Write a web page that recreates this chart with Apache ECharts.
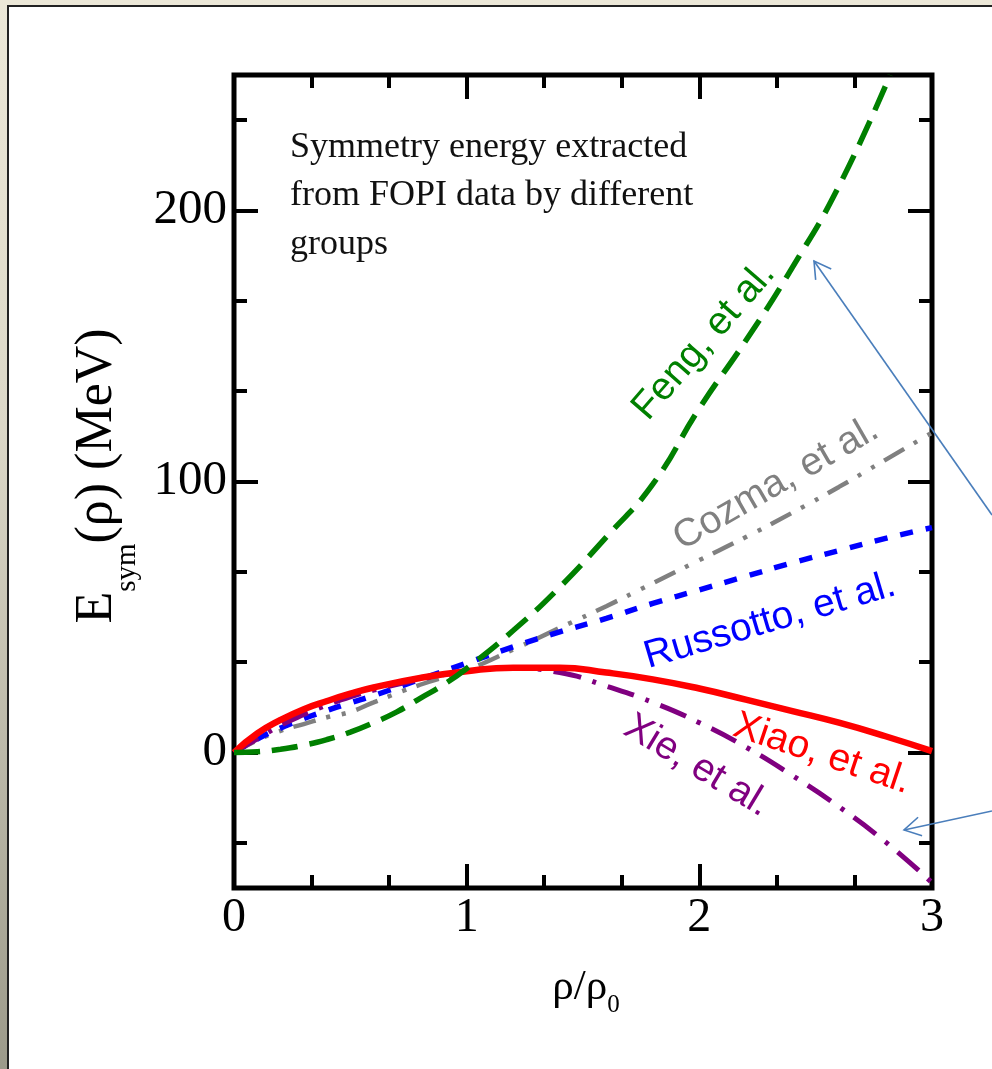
<!DOCTYPE html>
<html><head><meta charset="utf-8">
<script src="https://cdn.jsdelivr.net/npm/echarts@6/dist/echarts.min.js"></script>
<style>
html,body{margin:0;padding:0;width:992px;height:1069px;overflow:hidden;}
body{position:relative;background:linear-gradient(to bottom,#ece8d8 0%,#dcd8c8 40%,#9c9a8a 100%);}
#panel{position:absolute;left:7px;top:5px;width:1000px;height:1080px;background:#fff;border-left:2px solid #222;border-top:2px solid #222;}
#chart{position:absolute;left:0;top:0;width:992px;height:1069px;}
</style></head><body><div id="panel"></div><div id="chart"></div>
<script>
// ---- data ----
const densities = [0,0.1,0.2,0.3,0.4,0.5,0.6,0.8,1.0,1.2,1.4,1.6,1.8,2.0,2.2,2.4,2.6,2.8,3.0];
const xiao      = [0,7,12,16,19,21.7,24,27.5,30,31.3,31.3,29.5,27,23.6,19.5,15.3,11,6,0.5];
const xie       = [0,5,10,14,17.5,20.5,23,27,30,31,29.5,24.5,18.5,11,2,-8.5,-20,-33,-48];
const cozma     = [0,4.5,8,10.5,13,15,18.5,25,30.5,38,46,54,62.5,71,79.5,88.5,98,108,118];
const russotto  = [0,5,9,12.5,15.5,18.3,21,27,33,39,44.5,49.5,55,60,65,70,74.5,79,83];
const fengX     = [0,0.1,0.2,0.3,0.4,0.5,0.6,0.7,0.8,0.9,1.0,1.2,1.4,1.6,1.8,2.0,2.2,2.4,2.6,2.82];
const fengY     = [0,0.3,1.2,2.7,4.8,7.5,11,15,20,25,31,45,61,79.5,99,127,152,179,209,250];
const yMajorTicks = [0,100,200];
const yMinorTicks = [-33.333,33.333,66.667,133.333,166.667,233.333];
const seriesNames = ['Feng, et al.','Cozma, et al.','Russotto, et al.','Xiao, et al.','Xie, et al.'];
const noteLines = ['Symmetry energy extracted','from FOPI data by different','groups'];

const zip = (xs, ys) => xs.map((x,i)=>[x, ys[i]]);
const serif = '"Liberation Serif","Times New Roman","DejaVu Serif",serif';
const sans = '"Liberation Sans",Arial,sans-serif';
const black = '#000';

const chart = echarts.init(document.getElementById('chart'));

function xAx(pos, showLabel){
  return {type:'value', position:pos, min:0, max:3, interval:1,
    axisLine:{show:false, onZero:false},
    axisTick:{show:true, inside:true, length:24, lineStyle:{color:black, width:4}},
    minorTick:{show:true, splitNumber:3, length:13, lineStyle:{color:black, width:4}},
    splitLine:{show:false}, minorSplitLine:{show:false},
    axisLabel:{show:showLabel, fontFamily:serif, fontSize:48, color:black, margin:6}};
}
function yAx(pos, ticks, len, showLabel){
  return {type:'value', position:pos, min:-50, max:250,
    axisLine:{show:false, onZero:false},
    axisTick:{show:true, inside:true, length:len, customValues:ticks, lineStyle:{color:black, width:4}},
    splitLine:{show:false},
    axisLabel:{show:showLabel, customValues:ticks, fontFamily:serif, fontSize:49, color:black, margin:7}};
}
function lineSeries(name, data, color, width, dash){
  return {name, type:'line', data, smooth:true, symbol:'none', clip:true,
    lineStyle:{color, width, type:dash, cap:'butt'}, xAxisIndex:0, yAxisIndex:0};
}
function arrow(x1,y1,x2,y2){
  const ang = Math.atan2(y1-y2, x1-x2), L=19, a=Math.PI/6;
  const st = {stroke:'#4a7ebb', lineWidth:1.6, fill:null};
  return [
    {type:'line', z:100, shape:{x1,y1,x2,y2}, style:st},
    {type:'polyline', z:100, shape:{points:[[x2+L*Math.cos(ang+a), y2+L*Math.sin(ang+a)],[x2,y2],[x2+L*Math.cos(ang-a), y2+L*Math.sin(ang-a)]]}, style:st}
  ];
}
const labelSpecs = [
  {t:seriesNames[0], c:'#008000', x:704, y:341, r:49},
  {t:seriesNames[1], c:'#808080', x:776, y:484, r:30},
  {t:seriesNames[2], c:'#0000ff', x:770, y:621, r:16.5},
  {t:seriesNames[3], c:'#ff0000', x:822, y:754, r:-18.5},
  {t:seriesNames[4], c:'#800080', x:697, y:766, r:-31}
];
const graphics = [];
labelSpecs.forEach(l=>graphics.push({type:'text', z:50, x:l.x, y:l.y, rotation:l.r*Math.PI/180,
  style:{text:l.t, fill:l.c, fontFamily:sans, fontSize:39, align:'center', verticalAlign:'middle'}}));
graphics.push({type:'text', z:50, x:290, y:123, style:{text:noteLines.join('\n'), fill:'#111', fontFamily:serif, fontSize:36, lineHeight:48.5, align:'left', verticalAlign:'top'}});
graphics.push({type:'text', z:50, x:97, y:476, rotation:Math.PI/2,
  style:{text:'{e|E}{s|sym}{e|(ρ) (MeV)}', align:'center', verticalAlign:'middle',
    rich:{e:{fontFamily:serif, fontSize:52, lineHeight:52, fill:black, color:black},
          s:{fontFamily:serif, fontSize:29, lineHeight:29, padding:[60,0,0,0], fill:black, color:black}}}});
graphics.push({type:'text', z:50, x:586, y:988,
  style:{text:'{e|ρ/ρ}{s|0}', align:'center', verticalAlign:'middle',
    rich:{e:{fontFamily:serif, fontSize:43, lineHeight:43, fill:black, color:black},
          s:{fontFamily:serif, fontSize:25, lineHeight:25, padding:[34,0,0,0], fill:black, color:black}}}});
arrow(992,515,814,261).forEach(g=>graphics.push(g));
arrow(992,811,904,830).forEach(g=>graphics.push(g));

chart.setOption({
  animation:false,
  backgroundColor:'transparent',
  grid:{left:234, right:60, top:75, bottom:181, show:true, borderColor:black, borderWidth:5, backgroundColor:'transparent'},
  xAxis:[xAx('bottom', true), xAx('top', false)],
  yAxis:[yAx('left', yMajorTicks, 24, true), yAx('left', yMinorTicks, 13, false),
         yAx('right', yMajorTicks, 24, false), yAx('right', yMinorTicks, 13, false)],
  series:[
    lineSeries(seriesNames[1], zip(densities, cozma), '#808080', 4.5, [23,11,4,12,4,11]),
    lineSeries(seriesNames[2], zip(densities, russotto), '#0000ff', 5.5, [13,13]),
    lineSeries(seriesNames[4], zip(densities, xie), '#800080', 5, [28,12,4,12]),
    lineSeries(seriesNames[3], zip(densities, xiao), '#ff0000', 6.5, 'solid'),
    lineSeries(seriesNames[0], zip(fengX, fengY), '#008000', 5.5, [26,12])
  ],
  graphic:graphics
});
</script></body></html>
